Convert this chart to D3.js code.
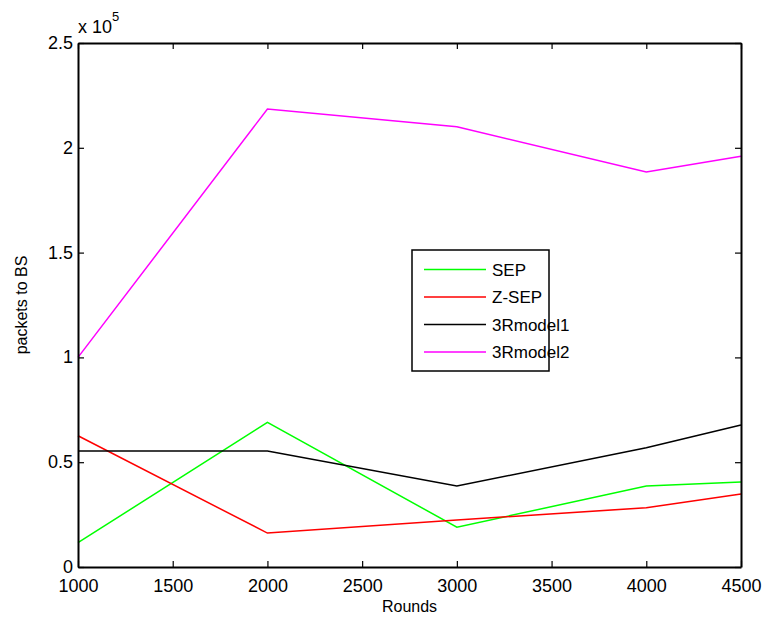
<!DOCTYPE html>
<html>
<head>
<meta charset="utf-8">
<script src="https://cdn.jsdelivr.net/npm/d3@7"></script>
<style>
  body { margin: 0; background: #fff; }
  text { font-family: "Liberation Sans", Arial, sans-serif; fill: #000; }
</style>
</head>
<body>
<svg id="chart" width="763" height="622"></svg>
<script>
// Data (values in units of 1e5 packets)
const rounds = [1000, 2000, 3000, 4000, 4500];
const sep = [0.116, 0.69, 0.19, 0.386, 0.405];
const zsep = [0.626, 0.162, 0.224, 0.283, 0.348];
const model1 = [0.553, 0.553, 0.386, 0.569, 0.677];
const model2 = [1.0, 2.185, 2.10, 1.885, 1.96];
const xTicks = [1000, 1500, 2000, 2500, 3000, 3500, 4000, 4500];
const yTicks = [0, 0.5, 1, 1.5, 2, 2.5];

const series = [
  { name: "SEP", values: sep, color: "#00ff00" },
  { name: "Z-SEP", values: zsep, color: "#ff0000" },
  { name: "3Rmodel1", values: model1, color: "#000000" },
  { name: "3Rmodel2", values: model2, color: "#ff00ff" },
];

const svg = d3.select("#chart");
const margin = { left: 78, right: 22, top: 43, bottom: 55 };
const width = 763 - margin.left - margin.right;
const height = 622 - margin.top - margin.bottom;

const x = d3.scaleLinear().domain([1000, 4500]).range([0, width]);
const y = d3.scaleLinear().domain([0, 2.5]).range([height, 0]);

const g = svg.append("g").attr("transform", `translate(${margin.left},${margin.top})`);

// Lines
const line = d3.line()
  .x((d, i) => x(rounds[i]))
  .y((d) => y(d));

g.selectAll(".series")
  .data(series)
  .enter()
  .append("path")
  .attr("class", "series")
  .attr("d", (d) => line(d.values))
  .attr("fill", "none")
  .attr("stroke", (d) => d.color)
  .attr("stroke-width", 1.5);

// Axes, MATLAB style with inward ticks on all four sides
const tickLen = 6;
const bottomAxis = d3.axisBottom(x).tickValues(xTicks).tickSizeInner(-tickLen).tickSizeOuter(0).tickPadding(12).tickFormat(d3.format("d"));
const leftAxis = d3.axisLeft(y).tickValues(yTicks).tickSizeInner(-tickLen).tickSizeOuter(0).tickPadding(5).tickFormat((d) => d3.format("")(d));

const gx = g.append("g").attr("transform", `translate(0,${height})`).call(bottomAxis);
const gy = g.append("g").call(leftAxis);
const gxTop = g.append("g").call(d3.axisTop(x).tickValues(xTicks).tickSizeInner(-tickLen).tickSizeOuter(0).tickFormat(""));
const gyRight = g.append("g").attr("transform", `translate(${width},0)`)
  .call(d3.axisRight(y).tickValues(yTicks).tickSizeInner(-tickLen).tickSizeOuter(0).tickFormat(""));

[gx, gy, gxTop, gyRight].forEach((a) => {
  a.select(".domain").attr("stroke", "#000").attr("stroke-width", 2);
  a.selectAll(".tick line").attr("stroke", "#000").attr("stroke-width", 1.2);
  a.selectAll(".tick text").style("font-size", "18px").attr("font-family", null);
});
gy.selectAll(".tick text").attr("dy", "0.3em");

// Exponent label
const expo = svg.append("text").attr("x", margin.left).attr("y", 33).style("font-size", "18px");
expo.append("tspan").text("x 10");
expo.append("tspan").attr("dy", -12).style("font-size", "13px").text("5");

// Axis titles
svg.append("text")
  .attr("x", margin.left + width / 2)
  .attr("y", 612)
  .attr("text-anchor", "middle")
  .style("font-size", "16px")
  .text("Rounds");

svg.append("text")
  .attr("transform", `translate(27,${margin.top + height / 2}) rotate(-90)`)
  .attr("text-anchor", "middle")
  .style("font-size", "16px")
  .text("packets to BS");

// Legend
const legend = svg.append("g").attr("transform", "translate(412,250)");
legend.append("rect")
  .attr("width", 137)
  .attr("height", 121)
  .attr("fill", "#fff")
  .attr("stroke", "#000")
  .attr("stroke-width", 1.5);

const items = legend.selectAll(".item")
  .data(series)
  .enter()
  .append("g")
  .attr("class", "item")
  .attr("transform", (d, i) => `translate(0,${19.5 + i * 27.5})`);

items.append("line")
  .attr("x1", 12).attr("x2", 74)
  .attr("stroke", (d) => d.color)
  .attr("stroke-width", 1.5);

items.append("text")
  .attr("x", 80)
  .attr("dy", "0.36em")
  .style("font-size", "17px")
  .text((d) => d.name);
</script>
</body>
</html>
